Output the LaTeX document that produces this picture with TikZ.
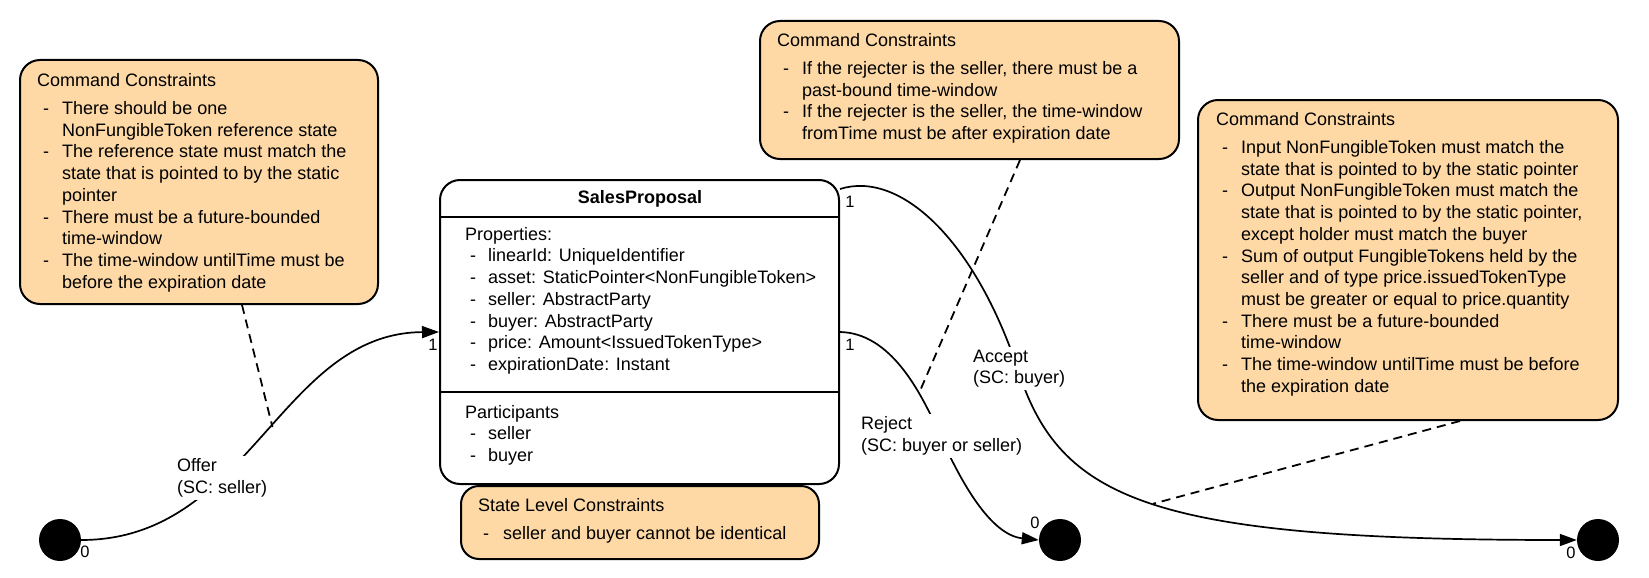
\documentclass[tikz,border=0pt]{standalone}
\usepackage{fontspec}
\setmainfont{Liberation Sans}
\usetikzlibrary{arrows.meta}
\definecolor{cfill}{RGB}{254,217,166}
\newcommand{\bl}{\hspace*{6pt}\makebox[19pt][l]{-}}
\newcommand{\cl}{\hspace*{25pt}}
\newcommand{\pb}{\hspace*{5pt}\makebox[18pt][l]{-}}
\begin{document}
\begin{tikzpicture}[x=1pt,y=-1pt,
  cbox/.style={draw, line width=2pt, rounded corners=20pt, fill=cfill, inner sep=0pt},
  txt/.style={anchor=north west, inner sep=0pt, align=left, font=\fontsize{18}{21.7}\selectfont},
  lbl/.style={anchor=north west, inner sep=2.5pt, align=left, fill=white, font=\fontsize{18}{21.7}\selectfont},
  num/.style={font=\fontsize{16.5}{18}\selectfont, inner sep=0pt},
  conn/.style={line width=1.7pt},
  arr/.style={conn, -{Triangle[length=17pt,width=12pt]}},
  dsh/.style={line width=1.8pt, dash pattern=on 9pt off 6pt},
  statec/.style={circle, fill=black, minimum size=42pt, inner sep=0pt}]
\useasboundingbox (0,0) rectangle (1649,578);

% boxes
\node[cbox, minimum width=358pt, minimum height=244pt] (lbox) at (199,182) {};
\node[cbox, minimum width=419pt, minimum height=138pt] (mbox) at (969.5,90) {};
\node[cbox, minimum width=420pt, minimum height=320pt] (rbox) at (1408,260) {};
\node[cbox, minimum width=358pt, minimum height=73pt, rounded corners=18pt] (slc) at (640,522.5) {};
\node[draw, line width=2pt, rounded corners=20pt, fill=white, inner sep=0pt,
      minimum width=399pt, minimum height=304pt] (sp) at (639.5,332) {};
\draw[line width=2pt] ([yshift=-38pt]sp.north west) -- ([yshift=-38pt]sp.north east);
\draw[line width=2pt] ([yshift=-213pt]sp.north west) -- ([yshift=-213pt]sp.north east);

% states
\node[statec] (start) at (60,540) {};
\node[statec] (rej) at (1060,540) {};
\node[statec] (endc) at (1598,540) {};

% texts
\node[txt] (ltxt) at (37,73) {Command Constraints\\[6.6pt]
\bl There should be one\\
\cl NonFungibleToken reference state\\
\bl The reference state must match the\\
\cl state that is pointed to by the static\\
\cl pointer\\
\bl There must be a future-bounded\\
\cl time-window\\
\bl The time-window untilTime must be\\
\cl before the expiration date};

\node[txt] (mtxt) at (777,33) {Command Constraints\\[6.6pt]
\bl If the rejecter is the seller, there must be a\\
\cl past-bound time-window\\
\bl If the rejecter is the seller, the time-window\\
\cl fromTime must be after expiration date};

\node[txt] (rtxt) at (1216,112) {Command Constraints\\[6.6pt]
\bl Input NonFungibleToken must match the\\
\cl state that is pointed to by the static pointer\\
\bl Output NonFungibleToken must match the\\
\cl state that is pointed to by the static pointer,\\
\cl except holder must match the buyer\\
\bl Sum of output FungibleTokens held by the\\
\cl seller and of type price.issuedTokenType\\
\cl must be greater or equal to price.quantity\\
\bl There must be a future-bounded\\
\cl time-window\\
\bl The time-window untilTime must be before\\
\cl the expiration date};

\node[txt] (stxt) at (478,498) {State Level Constraints\\[6.6pt]
\hspace*{5pt}\makebox[20pt][l]{-}seller and buyer cannot be identical};

\node[anchor=base, inner sep=0pt, font=\bfseries\fontsize{18}{21.7}\selectfont] (spt) at (640,203.5) {SalesProposal};
\node[txt] (ptxt) at (465,227) {Properties:\\
\pb linearId: UniqueIdentifier\\
\pb asset: StaticPointer<NonFungibleToken>\\
\pb seller: AbstractParty\\
\pb buyer: AbstractParty\\
\pb price: Amount<IssuedTokenType>\\
\pb expirationDate: Instant};
\node[txt] (patxt) at (465,405) {Participants\\
\pb seller\\
\pb buyer};

% connectors
\draw[arr] (start.east) .. controls (250,540) and (280,333) .. (sp.west) coordinate[pos=0.53] (ofc);
\draw[arr] ([yshift=-10pt]sp.north east) .. controls (900,170) and (975,240) .. (1018,370)
   .. controls (1060,500) and (1150,540) .. (endc.west) coordinate[pos=0.5] (acc);
\draw[arr] (sp.east) .. controls (890,333) and (920,390) .. (940,435) coordinate[pos=0.7] (rjc)
   .. controls (960,480) and (990,535) .. (rej.west);

\draw[dsh] ([xshift=43pt]lbox.south) -- (ofc);
\draw[dsh] ([xshift=50.5pt]mbox.south) -- (rjc);
\draw[dsh] ([xshift=52pt]rbox.south) -- (acc);

% labels
\node[lbl] (offl) at (174.5,456) {Offer\\(SC: seller)};
\node[lbl] (accl) at (970.5,347) {Accept\\(SC: buyer)};
\node[lbl] (rejl) at (858.5,414) {Reject\\(SC: buyer or seller)};

\node[num] (n1) at (433,345) {1};
\node[num] (n2) at (850,202) {1};
\node[num] (n3) at (850,345) {1};
\node[num] (n4) at (85,552) {0};
\node[num] (n5) at (1035,523) {0};
\node[num] (n6) at (1571,553) {0};
\end{tikzpicture}
\end{document}
